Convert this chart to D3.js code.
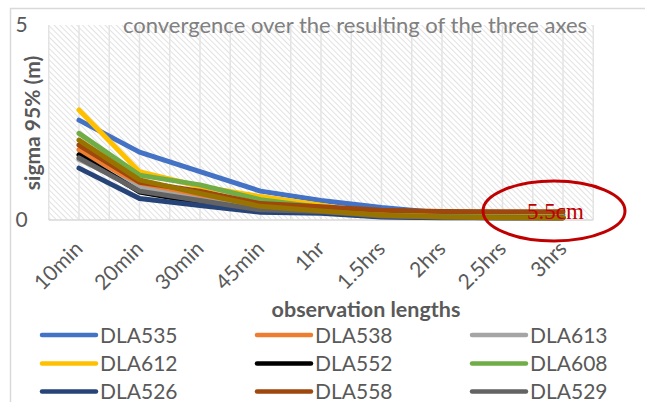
<!DOCTYPE html>
<html>
<head>
<meta charset="utf-8">
<script src="https://cdn.jsdelivr.net/npm/d3@7"></script>
<style>
  body { margin: 0; background: #fff; }
  svg { display: block; font-family: Lato, "Open Sans", sans-serif; }
</style>
</head>
<body>
<div id="chart"></div>
<script>
// observation lengths on the x axis
const categories = ["10min", "20min", "30min", "45min", "1hr", "1.5hrs", "2hrs", "2.5hrs", "3hrs"];

// station names, in legend order
const seriesNames = ["DLA535", "DLA538", "DLA613", "DLA612", "DLA552", "DLA608", "DLA526", "DLA558", "DLA529", ""];

const seriesColors = ["#4472C4", "#ED7D31", "#A5A5A5", "#FFC000", "#000000", "#70AD47", "#264478", "#9E480E", "#636363", "#997300"];

// sigma 95% (m)
const dla535 = [2.56, 1.74, 1.24, 0.74, 0.50, 0.32, 0.18, 0.15, 0.13];
const dla538 = [1.80, 0.90, 0.60, 0.32, 0.26, 0.12, 0.10, 0.09, 0.08];
const dla613 = [1.55, 0.82, 0.52, 0.28, 0.24, 0.11, 0.09, 0.08, 0.07];
const dla612 = [2.82, 1.24, 0.86, 0.60, 0.38, 0.14, 0.10, 0.09, 0.08];
const dla552 = [1.67, 0.72, 0.45, 0.22, 0.20, 0.09, 0.07, 0.06, 0.06];
const dla608 = [2.22, 1.15, 0.90, 0.52, 0.32, 0.12, 0.09, 0.08, 0.07];
const dla526 = [1.33, 0.55, 0.37, 0.20, 0.17, 0.08, 0.06, 0.06, 0.055];
const dla558 = [1.92, 0.97, 0.74, 0.42, 0.34, 0.25, 0.22, 0.21, 0.21];
const dla529 = [1.59, 0.74, 0.50, 0.26, 0.22, 0.10, 0.08, 0.07, 0.06];
// tenth series, its legend entry is cut off in the picture
const cutOff = [2.05, 1.03, 0.68, 0.35, 0.23, 0.12, 0.08, 0.06, 0.05];

const seriesValues = [dla535, dla538, dla613, dla612, dla552, dla608, dla526, dla558, dla529, cutOff];

const yTicks = [0, 5];

const width = 645, height = 402;
const plot = { left: 48.75, right: 593.25, top: 25, bottom: 220 };

const svg = d3.select("#chart")
    .append("svg")
    .attr("width", width)
    .attr("height", height);

// outer chart frame
svg.append("rect")
    .attr("x", 10.5).attr("y", 8.5)
    .attr("width", 700).attr("height", 500)
    .attr("fill", "#fff")
    .attr("stroke", "#d9d9d9")
    .attr("stroke-width", 1.5);

// hatch fill for the plot area
const defs = svg.append("defs");
const hatch = defs.append("pattern")
    .attr("id", "hatch")
    .attr("patternUnits", "userSpaceOnUse")
    .attr("width", 4).attr("height", 4)
    .attr("patternTransform", "rotate(-45)");
hatch.append("line")
    .attr("x1", 0).attr("y1", 0)
    .attr("x2", 0).attr("y2", 4)
    .attr("stroke", "#d2d2d2")
    .attr("stroke-width", 1.3);

const x = d3.scaleBand()
    .domain(categories)
    .range([plot.left, plot.right]);

const y = d3.scaleLinear()
    .domain([0, 5])
    .range([plot.bottom, plot.top]);

svg.append("rect")
    .attr("x", plot.left).attr("y", plot.top)
    .attr("width", plot.right - plot.left)
    .attr("height", plot.bottom - plot.top)
    .attr("fill", "url(#hatch)");

// vertical gridlines at band edges and centres
const gridX = d3.range(0, categories.length * 2 + 1).map(k => plot.left + k * x.bandwidth() / 2);
svg.append("g")
    .selectAll("line")
    .data(gridX)
    .enter()
    .append("line")
    .attr("x1", d => d).attr("x2", d => d)
    .attr("y1", plot.top).attr("y2", plot.bottom)
    .attr("stroke", "#e3e3e3")
    .attr("stroke-width", 1.5);

svg.append("line")
    .attr("x1", plot.left).attr("x2", plot.right)
    .attr("y1", plot.bottom).attr("y2", plot.bottom)
    .attr("stroke", "#d9d9d9")
    .attr("stroke-width", 1.5);

// title sits inside the plot area
svg.append("text")
    .attr("x", 355)
    .attr("y", 33)
    .attr("text-anchor", "middle")
    .style("font-size", "22px")
    .style("fill", "#808080")
    .text("convergence over the resulting of the three axes");

// y axis
const yAxis = svg.append("g")
    .attr("transform", `translate(${plot.left},0)`)
    .call(d3.axisLeft(y).tickValues(yTicks).tickFormat(d3.format("d")).tickSize(0).tickPadding(21));
yAxis.select(".domain").remove();
yAxis.selectAll("text")
    .style("font-family", "Lato, sans-serif")
    .style("font-size", "21px")
    .style("fill", "#595959");

svg.append("text")
    .attr("transform", "rotate(-90)")
    .attr("x", -123)
    .attr("y", 40)
    .attr("text-anchor", "middle")
    .style("font-size", "21px")
    .style("font-weight", "bold")
    .style("fill", "#595959")
    .text("sigma 95% (m)");

// x axis labels, rotated
svg.append("g")
    .selectAll("text")
    .data(categories)
    .enter()
    .append("text")
    .attr("transform", d => `translate(${x(d) + x.bandwidth() / 2 + 5},250) rotate(-45)`)
    .attr("text-anchor", "end")
    .style("font-size", "21px")
    .style("fill", "#595959")
    .text(d => d);

svg.append("text")
    .attr("x", 366)
    .attr("y", 317)
    .attr("text-anchor", "middle")
    .style("font-size", "21.5px")
    .style("font-weight", "bold")
    .style("fill", "#595959")
    .text("observation lengths");

// series lines
const line = d3.line()
    .x((d, i) => x(categories[i]) + x.bandwidth() / 2)
    .y(d => y(d));

svg.append("g")
    .selectAll("path")
    .data(seriesValues)
    .enter()
    .append("path")
    .attr("d", d => line(d))
    .attr("fill", "none")
    .attr("stroke", (d, i) => seriesColors[i])
    .attr("stroke-width", 5)
    .attr("stroke-linejoin", "round")
    .attr("stroke-linecap", "round");

// red annotation
svg.append("ellipse")
    .attr("cx", 554).attr("cy", 211)
    .attr("rx", 71).attr("ry", 30)
    .attr("fill", "none")
    .attr("stroke", "#C00000")
    .attr("stroke-width", 3);

svg.append("text")
    .attr("x", 527)
    .attr("y", 219)
    .style("font-family", "'Liberation Serif', serif")
    .style("font-size", "23px")
    .style("fill", "#C00000")
    .text("5.5cm");

// legend, three columns
const legendCols = [42, 257, 472];
const legendRows = [335, 363.5, 391.5, 420];
const legend = svg.append("g")
    .selectAll("g")
    .data(seriesNames.map((name, i) => ({ name, color: seriesColors[i], i })).filter(d => d.name))
    .enter()
    .append("g")
    .attr("transform", d => `translate(${legendCols[d.i % 3]},${legendRows[Math.floor(d.i / 3)]})`);

legend.append("line")
    .attr("x1", 0).attr("x2", 54)
    .attr("y1", 0).attr("y2", 0)
    .attr("stroke", d => d.color)
    .attr("stroke-width", 4.5)
    .attr("stroke-linecap", "round");

legend.append("text")
    .attr("x", 58)
    .attr("y", 0)
    .attr("dy", "0.36em")
    .style("font-size", "21px")
    .style("fill", "#595959")
    .text(d => d.name);
</script>
</body>
</html>
